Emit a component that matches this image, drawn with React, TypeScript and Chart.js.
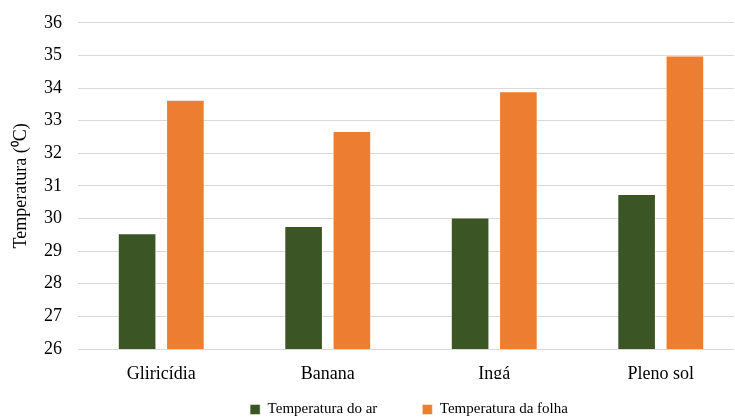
import React, { useEffect, useRef } from "react";
import { Chart, registerables } from "chart.js";

Chart.register(...registerables);

const categories = ["Gliricídia", "Banana", "Ingá", "Pleno sol"];
const airTemp = [29.55, 29.77, 30.03, 30.75];
const leafTemp = [33.64, 32.68, 33.9, 35.0];
const seriesNames = ["Temperatura do ar", "Temperatura da folha"];
const yMin = 26;
const yMax = 36;

const LEGEND_H = 39;
const LEGEND_SHIFT_X = 37;
const LEGEND_TOP = 361;

export default function App() {
  const ref = useRef<HTMLCanvasElement | null>(null);

  useEffect(() => {
    document.body.style.margin = "0";
    const ctx = ref.current;
    if (!ctx) return;
    const font = "'Liberation Serif', 'Times New Roman', serif";
    const legendPlugin = {
      id: "legendAdjust",
      beforeLayout(chart: any) {
        const lg = chart.legend;
        if (lg && !lg.__patched) {
          const orig = lg.fit;
          lg.fit = function () {
            orig.call(this);
            this.height = LEGEND_H;
          };
          lg.__patched = true;
        }
      },
      afterLayout(chart: any) {
        const lg = chart.legend;
        if (lg) {
          lg.left += LEGEND_SHIFT_X;
          lg.right += LEGEND_SHIFT_X;
          lg.top = LEGEND_TOP;
          lg.bottom = chart.height;
          lg.height = lg.bottom - lg.top;
        }
      },
      afterDraw(chart: any) {
        const c = chart.ctx;
        c.save();
        c.fillStyle = "#fff";
        c.fillRect(734, 0, 20, 360);
        c.restore();
      },
    };
    const chart = new Chart(ctx, {
      type: "bar",
      data: {
        labels: categories,
        datasets: [
          {
            label: seriesNames[0],
            data: airTemp,
            backgroundColor: "#3B5524",
            borderColor: "rgba(255,255,255,0.45)",
            borderWidth: 1,
            categoryPercentage: 0.58,
            barPercentage: 0.8,
          },
          {
            label: seriesNames[1],
            data: leafTemp,
            backgroundColor: "#ED7D31",
            borderColor: "rgba(255,255,255,0.45)",
            borderWidth: 1,
            categoryPercentage: 0.58,
            barPercentage: 0.8,
          },
        ],
      },
      plugins: [legendPlugin],
      options: {
        animation: false,
        responsive: false,
        maintainAspectRatio: false,
        layout: { padding: { top: 10, right: 1, left: 0, bottom: 0 } },
        plugins: {
          tooltip: { enabled: false },
          legend: {
            position: "bottom",
            labels: {
              boxWidth: 10,
              boxHeight: 10,
              padding: 45,
              color: "#000",
              font: { family: font, size: 15 },
            },
          },
        },
        scales: {
          x: {
            grid: { display: false, drawTicks: false },
            border: { display: false },
            ticks: { color: "#000", font: { family: font, size: 18 }, padding: 14 },
            afterFit: (scale: any) => {
              scale.height = 30;
            },
          },
          y: {
            min: yMin,
            max: yMax,
            ticks: {
              stepSize: 1,
              color: "#000",
              font: { family: font, size: 18 },
              padding: 16,
            },
            grid: { color: "#D9D9D9", lineWidth: 1, drawTicks: false },
            border: { display: false },
            title: {
              display: true,
              text: "Temperatura (⁰C)",
              color: "#000",
              font: { family: font, size: 18 },
              padding: { top: 10, bottom: 0 },
            },
            afterFit: (scale: any) => {
              scale.width = 78;
            },
          },
        },
      },
    });
    return () => chart.destroy();
  }, []);

  return (
    <div style={{ position: "absolute", left: 0, top: 0, width: 735, height: 418, overflow: "hidden", background: "#fff" }}>
      <canvas
        ref={ref}
        width={745}
        height={422}
        style={{ position: "absolute", left: 0, top: -4, width: 745, height: 422 }}
      />
    </div>
  );
}
